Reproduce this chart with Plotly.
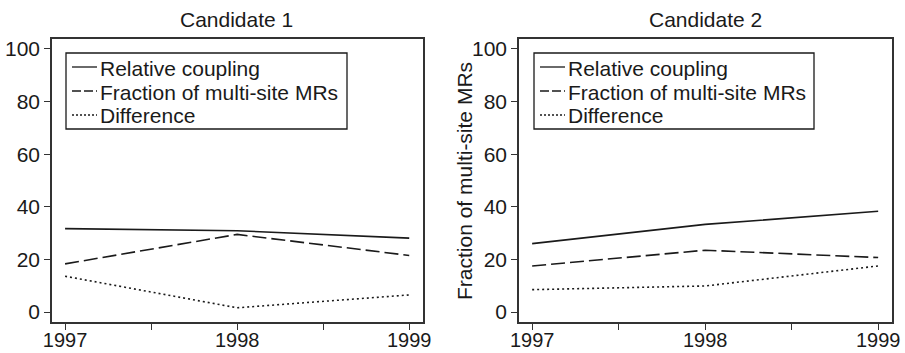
import plotly.graph_objects as go

years = [1997, 1998, 1999]
series_names = ["Relative coupling", "Fraction of multi-site MRs", "Difference"]
cand1_relative = [31.7, 30.9, 28.1]
cand1_fraction = [18.3, 29.5, 21.5]
cand1_difference = [13.6, 1.6, 6.5]
cand2_relative = [26.0, 33.3, 38.3]
cand2_fraction = [17.5, 23.5, 20.7]
cand2_difference = [8.5, 9.9, 17.5]
panel_titles = ["Candidate 1", "Candidate 2"]
x_tickvals = [1997, 1997.5, 1998, 1998.5, 1999]
x_ticktext = ["1997", "", "1998", "", "1999"]
y_tickvals = [0, 20, 40, 60, 80, 100]
y_title = "Fraction of multi-site MRs"

W, H = 905, 353
ML, MR, MT, MB = 52, 13, 39, 31
PW, PH = W - ML - MR, H - MT - MB
FONT = "Liberation Sans, Arial, Helvetica, sans-serif"
INK = "#1a1a1a"
FS = 21


def px(x):
    return (x - ML) / PW


def py(y):
    return 1 - (y - MT) / PH


dashes = ["solid", "14px,5px", "2px,3px"]

fig = go.Figure()
panels = [
    (cand1_relative, cand1_fraction, cand1_difference),
    (cand2_relative, cand2_fraction, cand2_difference),
]
for i, vals in enumerate(panels):
    xa = "x" if i == 0 else "x2"
    ya = "y" if i == 0 else "y2"
    for name, v, d in zip(series_names, vals, dashes):
        fig.add_trace(go.Scatter(
            x=years, y=v, mode="lines", name=name, xaxis=xa, yaxis=ya,
            showlegend=False,
            line=dict(color=INK, width=1.6, dash=d),
        ))

axis_common = dict(
    showgrid=False, zeroline=False, showline=True, mirror=True,
    linecolor="#333333", linewidth=1.6, ticks="outside", ticklen=6,
    tickwidth=1.3, tickcolor="#333333", automargin=False,
    tickfont=dict(family=FONT, size=FS, color=INK),
)
x_common = dict(axis_common, range=[1996.924, 1999.08], tickvals=x_tickvals,
                ticktext=x_ticktext, ticklabelstandoff=-7,
                tickfont=dict(family=FONT, size=20, color=INK))
y_common = dict(axis_common, range=[-3.8, 103.8], tickvals=y_tickvals)

fig.update_layout(
    width=W, height=H,
    margin=dict(l=ML, r=MR, t=MT, b=MB, autoexpand=False),
    paper_bgcolor="white", plot_bgcolor="white",
    xaxis=dict(x_common, domain=[0, px(423)], anchor="y"),
    yaxis=dict(y_common, domain=[0, 1], anchor="x"),
    xaxis2=dict(x_common, domain=[px(519), 1], anchor="y2"),
    yaxis2=dict(y_common, domain=[0, 1], anchor="x2"),
    showlegend=False,
    font=dict(family=FONT, size=FS, color=INK),
)

# Titles
for cx, t in zip([236.5, 705], panel_titles):
    fig.add_annotation(x=px(cx), y=py(20), xref="paper", yref="paper", text=t,
                       showarrow=False, xanchor="center", yanchor="middle",
                       font=dict(family=FONT, size=FS, color=INK))

# Y-axis title of the right panel
fig.add_annotation(x=px(464), y=py(181), xref="paper", yref="paper", text=y_title,
                   showarrow=False, textangle=-90, xanchor="center", yanchor="middle",
                   font=dict(family=FONT, size=FS, color=INK))

# Manual legends (compact line spacing like reference)
legend_boxes = [(66, 347), (534, 814)]
row_y = [67, 91, 115]
for (bx0, bx1) in legend_boxes:
    fig.add_shape(type="rect", xref="paper", yref="paper",
                  x0=px(bx0), x1=px(bx1), y0=py(129), y1=py(53),
                  line=dict(color=INK, width=1.3), fillcolor="white", layer="above")
    for name, d, ry in zip(series_names, ["solid", "9px,3px", "2px,2px"], row_y):
        fig.add_shape(type="line", xref="paper", yref="paper",
                      x0=px(bx0 + 6), x1=px(bx0 + 31), y0=py(ry), y1=py(ry),
                      line=dict(color=INK, width=1.3, dash=d), layer="above")
        fig.add_annotation(x=px(bx0 + 32), y=py(ry + 1), xref="paper", yref="paper",
                           text=name, showarrow=False, xanchor="left", yanchor="middle",
                           font=dict(family=FONT, size=FS, color=INK))

fig.write_html("out.html")
